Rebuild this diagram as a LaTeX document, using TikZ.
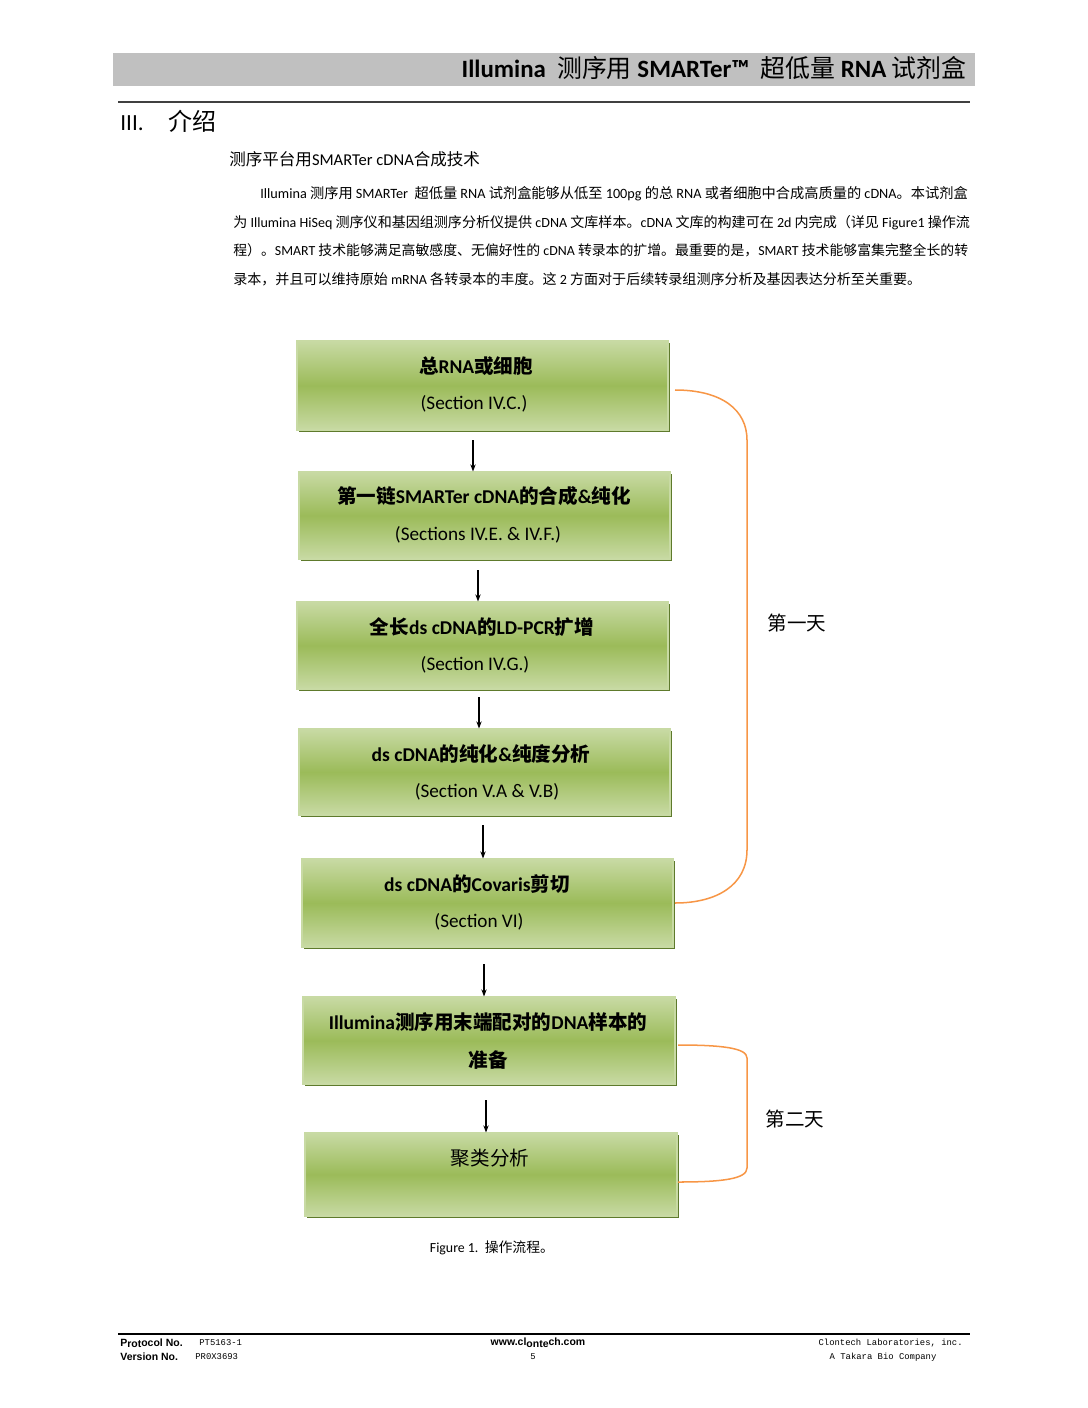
\documentclass[tikz,border=0pt]{standalone}
\usepackage{fontspec}
\setmainfont{Carlito}
\newfontfamily\cjk{Noto Sans CJK SC}
\newfontfamily\lsans{Liberation Sans}
\newfontfamily\lmono{Liberation Mono}
\usetikzlibrary{arrows.meta,shadows}
\definecolor{boxmid}{HTML}{9BBB59}
\definecolor{boxlight}{HTML}{C8DAA4}
\definecolor{boxdark}{HTML}{5E7A2C}
\definecolor{orng}{HTML}{F79646}
\definecolor{hdrgray}{HTML}{C0C0C0}
\newdimen\pxu \pxu=0.5625pt
\tikzset{
  stepbox/.style={draw=boxlight, line width=0.6pt, top color=boxlight, bottom color=boxlight, middle color=boxmid,
    inner sep=0pt, drop shadow={shadow xshift=1.1pt, shadow yshift=-1.1pt, fill=boxdark, opacity=1}},
  ttl/.style={font=\fontsize{11}{13}\selectfont\bfseries, text=black, inner sep=0pt},
  sub/.style={font=\fontsize{10.8}{13}\selectfont, text=black, inner sep=0pt},
  arr/.style={-{Stealth[length=4pt,width=3pt]}, line width=0.6pt, black},
  brace/.style={orng, line width=0.85pt},
  para/.style={font=\fontsize{7.9}{9}\selectfont, anchor=base west, inner sep=0pt},
  foot/.style={inner sep=0pt, anchor=base west},
}
\begin{document}
\begin{tikzpicture}[x=0.5625pt, y=-0.5625pt]
\useasboundingbox (0,0) rectangle (1088,1408);
% header
\fill[hdrgray] (113,53) rectangle (975,86);
\node[anchor=base east, inner sep=0pt, font=\fontsize{14}{16}\selectfont\bfseries] (hdr) at (967,78)
  {Illumina\ \ {\cjk\mdseries 测序用} SMARTer™\ \ {\cjk\mdseries 超低量} RNA {\cjk\mdseries 试剂盒}};
\draw[line width=0.9pt, black!75] (118,102) -- (970,102);
\node[anchor=base west, inner sep=0pt, font=\fontsize{13}{15}\selectfont] (sec) at (120,131)
  {III.\hspace{14pt}{\cjk\fontsize{13.5}{15}\selectfont 介绍}};
\node[anchor=base west, inner sep=0pt, font=\fontsize{9.3}{11}\selectfont] (sub) at (229,166)
  {{\cjk 测序平台用}SMARTer cDNA{\cjk 合成技术}};
% paragraph
\node[para, font=\fontsize{8.0}{9}\selectfont] (p1) at (260,198) {Illumina {\cjk 测序用} SMARTer\ \ {\cjk 超低量} RNA {\cjk 试剂盒能够从低至} 100pg {\cjk 的总} RNA {\cjk 或者细胞中合成高质量的} cDNA{\cjk 。本试剂盒}};
\node[para] (p2) at (233,227) {{\cjk 为} Illumina HiSeq {\cjk 测序仪和基因组测序分析仪提供} cDNA {\cjk 文库样本。}cDNA {\cjk 文库的构建可在} 2d {\cjk 内完成（详见} Figure1 {\cjk 操作流}};
\node[para, font=\fontsize{7.8}{9}\selectfont] (p3) at (233,255) {{\cjk 程）。}SMART {\cjk 技术能够满足高敏感度、无偏好性的} cDNA {\cjk 转录本的扩增。最重要的是，}SMART {\cjk 技术能够富集完整全长的转}};
\node[para] (p4) at (233,284) {{\cjk 录本，并且可以维持原始} mRNA {\cjk 各转录本的丰度。这} 2 {\cjk 方面对于后续转录组测序分析及基因表达分析至关重要。}};
% boxes
\node[stepbox, minimum width=371\pxu, minimum height=89\pxu] (b1) at (482.5,385.5) {};
\node[stepbox, minimum width=371\pxu, minimum height=87\pxu] (b2) at (484.5,515.5) {};
\node[stepbox, minimum width=371\pxu, minimum height=87\pxu] (b3) at (482.5,645.5) {};
\node[stepbox, minimum width=371\pxu, minimum height=86\pxu] (b4) at (484.5,772) {};
\node[stepbox, minimum width=371\pxu, minimum height=88\pxu] (b5) at (487.5,903) {};
\node[stepbox, minimum width=372\pxu, minimum height=87\pxu] (b6) at (489,1040.5) {};
\node[stepbox, minimum width=372\pxu, minimum height=83\pxu] (b7) at (491,1174.5) {};
% box texts
\node[ttl] (t1a) at (476,366) {{\cjk 总}RNA{\cjk 或细胞}};
\node[sub] (t1b) at (474,404) {(Section IV.C.)};
\node[ttl] (t2a) at (484,496) {{\cjk 第一链}SMARTer cDNA{\cjk 的合成}\&{\cjk 纯化}};
\node[sub] (t2b) at (478,535) {(Sections IV.E. \& IV.F.)};
\node[ttl] (t3a) at (482,627) {{\cjk 全长}ds cDNA{\cjk 的}LD-PCR{\cjk 扩增}};
\node[sub] (t3b) at (475,665) {(Section IV.G.)};
\node[ttl] (t4a) at (481,754) {ds cDNA{\cjk 的纯化}\&{\cjk 纯度分析}};
\node[sub] (t4b) at (487,792) {(Section V.A \& V.B)};
\node[ttl] (t5a) at (477,884) {ds cDNA{\cjk 的}Covaris{\cjk 剪切}};
\node[sub] (t5b) at (479,922) {(Section VI)};
\node[ttl] (t6a) at (488,1022) {Illumina{\cjk 测序用末端配对的}DNA{\cjk 样本的}};
\node[ttl] (t6b) at (488,1060) {{\cjk 准备}};
\node[ttl] (t7a) at (490,1158) {{\cjk\mdseries 聚类分析}};
% arrows
\coordinate (a1) at (473,440);
\coordinate (a2) at (478,570);
\coordinate (a3) at (479,697);
\coordinate (a4) at (483,825);
\coordinate (a5) at (484,964);
\coordinate (a6) at (486,1100);
\draw[arr] (a1) -- (a1 |- b2.north);
\draw[arr] (a2) -- (a2 |- b3.north);
\draw[arr] (a3) -- (a3 |- b4.north);
\draw[arr] (a4) -- (a4 |- b5.north);
\draw[arr] (a5) -- (a5 |- b6.north);
\draw[arr] (a6) -- (a6 |- b7.north);
% braces
\coordinate (d1s) at (675,390);
\coordinate (d1e) at (675,903);
\coordinate (d2s) at (678,1045);
\coordinate (d2e) at (678,1182);
\draw[brace] (d1s) .. controls (722,390) and (747,410) .. (747,440) -- (747,850) .. controls (747,885) and (717,903) .. (d1e);
\draw[brace] (d2s) .. controls (722,1045) and (747,1048) .. (747,1058) -- (747,1168) .. controls (747,1179) and (722,1182) .. (d2e);
\node[inner sep=0pt, font=\cjk\fontsize{11}{13}\selectfont] (day1) at (797,623) {第一天};
\node[inner sep=0pt, font=\cjk\fontsize{11}{13}\selectfont] (day2) at (795,1119) {第二天};
% caption
\node[inner sep=0pt, anchor=base, font=\fontsize{7.8}{9}\selectfont] (cap) at (492,1252) {Figure 1.\ \ {\cjk 操作流程。}};
% footer
\draw[line width=1.2pt, black] (118,1334) -- (970,1334);
\node[foot, font=\lsans\bfseries\fontsize{5.9}{7}\selectfont] (f1) at (120,1346) {P\raisebox{-0.8pt}{rot}ocol No.};
\node[foot, font=\lsans\bfseries\fontsize{5.9}{7}\selectfont] (f2) at (120,1360) {Version No.};
\node[foot, font=\lmono\fontsize{5}{7}\selectfont] (f3) at (199,1345) {PT5163-1};
\node[foot, font=\lmono\fontsize{5}{7}\selectfont] (f4) at (195,1359) {PR0X3693};
\node[inner sep=0pt, anchor=base, font=\lsans\bfseries\fontsize{5.9}{7}\selectfont] (f5) at (538,1345) {www.cl\raisebox{-1.5pt}{onte}ch.com};
\node[inner sep=0pt, anchor=base, font=\lmono\fontsize{5}{7}\selectfont] (f6) at (533,1359) {5};
\node[inner sep=0pt, anchor=base east, font=\lmono\fontsize{5}{7}\selectfont] (f7) at (963,1345) {Clontech Laboratories, inc.};
\node[inner sep=0pt, anchor=base, font=\lmono\fontsize{5}{7}\selectfont] (f8) at (883,1359) {A Takara Bio Company};
\end{tikzpicture}
\end{document}
